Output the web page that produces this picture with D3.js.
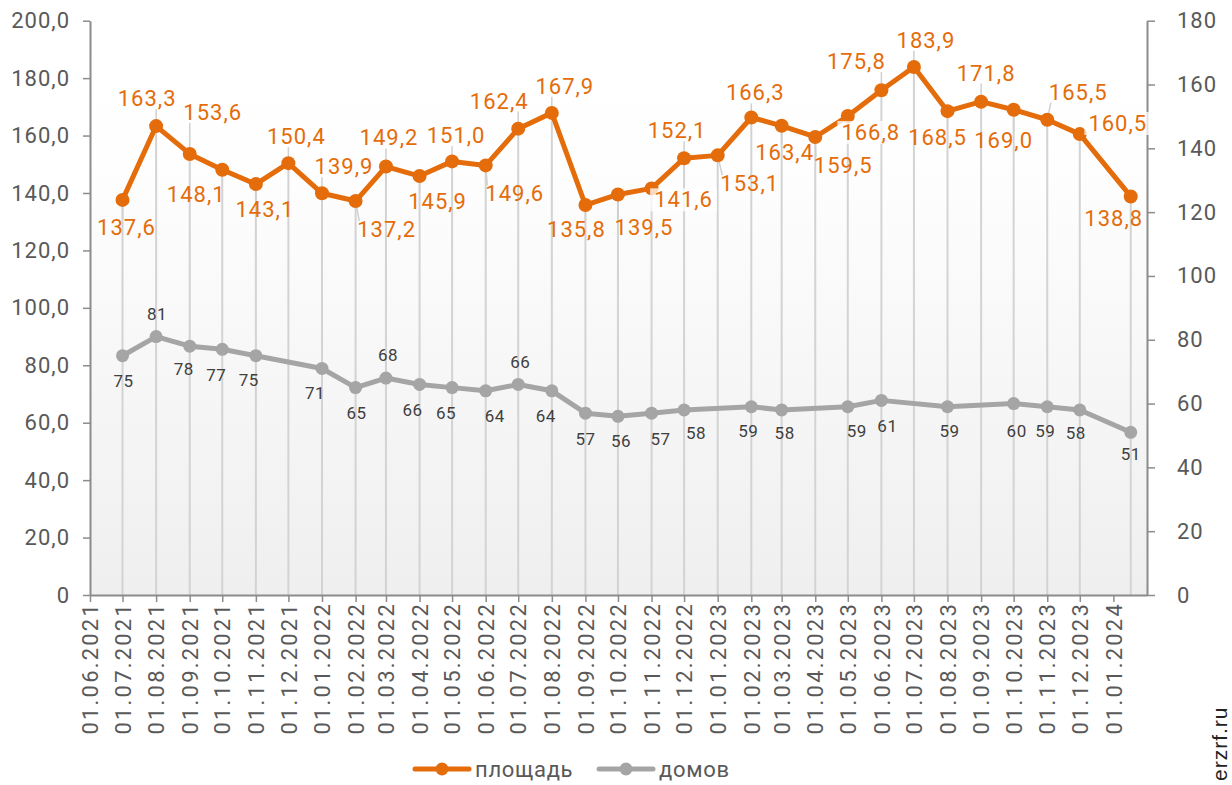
<!DOCTYPE html>
<html>
<head>
<meta charset="utf-8">
<script src="https://cdn.jsdelivr.net/npm/d3@7"></script>
<style>
  body { margin: 0; background: #fff; }
  text { font-family: Roboto, sans-serif; }
</style>
</head>
<body>
<script>
// площадь (left axis)
var areaDates = ["2021-07-01","2021-08-01","2021-09-01","2021-10-01","2021-11-01","2021-12-01",
    "2022-01-01","2022-02-01","2022-03-01","2022-04-01","2022-05-01","2022-06-01",
    "2022-07-01","2022-08-01","2022-09-01","2022-10-01","2022-11-01","2022-12-01",
    "2023-01-01","2023-02-01","2023-03-01","2023-04-01","2023-05-01","2023-06-01",
    "2023-07-01","2023-08-01","2023-09-01","2023-10-01","2023-11-01","2023-12-01",
    "2024-01-17"];
var areaValues = [137.6,163.3,153.6,148.1,143.1,150.4,
    139.9,137.2,149.2,145.9,151.0,149.6,
    162.4,167.9,135.8,139.5,141.6,152.1,
    153.1,166.3,163.4,159.5,166.8,175.8,
    183.9,168.5,171.8,169.0,165.5,160.5,
    138.8];
// label offsets from the point (px)
var areaDx = [4,-9,23,-26,9,8, 22,31,3,18,4,29, -19,13,-9,26,32,-7, 32,4,3,28,23,-25, 12,-10,5,-10,31,38, -17];
var areaDy = [27,-28,-42,24,25,-27, -27,28,-29,25,-26,28, -28,-27,24,33,11,-28, 28,-25,26,28,16,-29, -27,26,-29,30,-28,-11, 22];
var boxedLabels = [16, 22, 29];

// домов (right axis)
var homesDates = ["2021-07-01","2021-08-01","2021-09-01","2021-10-01","2021-11-01",
    "2022-01-01","2022-02-01","2022-03-01","2022-04-01","2022-05-01","2022-06-01",
    "2022-07-01","2022-08-01","2022-09-01","2022-10-01","2022-11-01","2022-12-01",
    "2023-02-01","2023-03-01","2023-05-01","2023-06-01",
    "2023-08-01","2023-10-01","2023-11-01","2023-12-01",
    "2024-01-17"];
var homesValues = [75,81,78,77,75, 71,65,68,66,65,64, 66,64,57,56,57,58, 59,58,59,61, 59,60,59,58, 51];
var homesDx = [1,1,-6,-6,-7, -7,1,2,-7,-6,9, 2,-6,0,3,9,12, -3,3,9,6, 2,3,-2,-4, 0];
var homesDy = [25,-23,23,26,24, 24,25,-23,25,25,25, -23,25,26,25,26,23, 24,23,24,26, 24,27,24,23, 22];

var leftTicks = [0,20,40,60,80,100,120,140,160,180,200];
var rightTicks = [0,20,40,60,80,100,120,140,160,180];
var seriesNames = ["площадь", "домов"];

var orange = "#E46C0A", grey = "#A5A5A5", axisColor = "#8c8c8c", textColor = "#595959";

var width = 1232, height = 785;
var plot = {left: 90, right: 1147, top: 20.7, bottom: 595};

var parse = d3.utcParse("%Y-%m-%d");
var fmt1 = function(v) { return d3.format(".1f")(v).replace(".", ","); };

var x = d3.scaleUtc()
    .domain([parse("2021-06-01"), parse("2024-02-01")])
    .range([plot.left, plot.right]);
var yL = d3.scaleLinear().domain([0, 200]).range([plot.bottom, plot.top]);
var yR = d3.scaleLinear().domain([0, 180]).range([plot.bottom, plot.top]);

var area = areaDates.map(function(d, i) { return {date: parse(d), value: areaValues[i], dx: areaDx[i], dy: areaDy[i], i: i}; });
var homes = homesDates.map(function(d, i) { return {date: parse(d), value: homesValues[i], dx: homesDx[i], dy: homesDy[i]}; });

var svg = d3.select("body").append("svg")
    .attr("width", width)
    .attr("height", height);

var defs = svg.append("defs");
var grad = defs.append("linearGradient").attr("id", "bg").attr("x1", 0).attr("y1", 0).attr("x2", 0).attr("y2", 1);
grad.append("stop").attr("offset", "0%").attr("stop-color", "#ffffff");
grad.append("stop").attr("offset", "25%").attr("stop-color", "#fefefe");
grad.append("stop").attr("offset", "100%").attr("stop-color", "#efefef");

svg.append("rect")
    .attr("x", plot.left).attr("y", plot.top)
    .attr("width", plot.right - plot.left).attr("height", plot.bottom - plot.top)
    .attr("fill", "url(#bg)");

// drop lines
svg.append("g").selectAll("line")
    .data(area)
    .enter().append("line")
    .attr("x1", function(d) { return x(d.date); })
    .attr("x2", function(d) { return x(d.date); })
    .attr("y1", function(d) { return yL(d.value); })
    .attr("y2", plot.bottom)
    .style("stroke", "#d3d3d3")
    .style("stroke-width", 2);

// axes
var leftAxis = svg.append("g")
    .attr("transform", "translate(" + plot.left + ",0)")
    .call(d3.axisLeft(yL).tickValues(leftTicks)
        .tickFormat(function(d) { return d === 0 ? "0" : fmt1(d); })
        .tickSize(7).tickSizeOuter(0).tickPadding(13));

var rightAxis = svg.append("g")
    .attr("transform", "translate(" + plot.right + ",0)")
    .call(d3.axisRight(yR).tickValues(rightTicks)
        .tickSize(8).tickSizeOuter(0).tickPadding(22));

var months = d3.utcMonth.range(parse("2021-06-01"), parse("2024-01-02"));
var bottomAxis = svg.append("g")
    .attr("transform", "translate(0," + plot.bottom + ")")
    .call(d3.axisBottom(x).tickValues(months)
        .tickFormat(d3.utcFormat("%d.%m.%Y"))
        .tickSize(7).tickSizeOuter(0));

[leftAxis, rightAxis, bottomAxis].forEach(function(a) {
    a.select(".domain").style("stroke", axisColor).style("stroke-width", 2);
    a.selectAll(".tick line").style("stroke", axisColor).style("stroke-width", 1.5);
    a.selectAll("text")
        .style("font-family", "Roboto, sans-serif")
        .style("font-size", "22px")
        .style("letter-spacing", "1px")
        .style("fill", textColor);
});

bottomAxis.selectAll("text")
    .attr("transform", "rotate(-90)")
    .attr("text-anchor", "end")
    .attr("x", -7)
    .attr("y", 0)
    .attr("dy", "0.35em")
    .style("letter-spacing", "2.2px");

var lineArea = d3.line().x(function(d) { return x(d.date); }).y(function(d) { return yL(d.value); });
var lineHomes = d3.line().x(function(d) { return x(d.date); }).y(function(d) { return yR(d.value); });

var leaders = svg.append("g");

svg.append("path").datum(homes)
    .attr("d", lineHomes)
    .style("fill", "none").style("stroke", grey).style("stroke-width", 5)
    .style("stroke-linejoin", "round");
svg.append("g").selectAll("circle").data(homes).enter().append("circle")
    .attr("cx", function(d) { return x(d.date); })
    .attr("cy", function(d) { return yR(d.value); })
    .attr("r", 6.5).style("fill", grey);

svg.append("path").datum(area)
    .attr("d", lineArea)
    .style("fill", "none").style("stroke", orange).style("stroke-width", 5)
    .style("stroke-linejoin", "round");
svg.append("g").selectAll("circle").data(area).enter().append("circle")
    .attr("cx", function(d) { return x(d.date); })
    .attr("cy", function(d) { return yL(d.value); })
    .attr("r", 7).style("fill", orange);

// labels: домов
svg.append("g").selectAll("text").data(homes).enter().append("text")
    .attr("x", function(d) { return x(d.date) + d.dx; })
    .attr("y", function(d) { return yR(d.value) + d.dy; })
    .attr("dy", "0.36em")
    .attr("text-anchor", "middle")
    .style("font-size", "17px")
    .style("letter-spacing", "0.5px")
    .style("fill", "#404040")
    .text(function(d) { return d.value; });

// labels: площадь
var boxG = svg.append("g");
var areaLabels = svg.append("g").selectAll("text").data(area).enter().append("text")
    .attr("x", function(d) { return x(d.date) + d.dx; })
    .attr("y", function(d) { return yL(d.value) + d.dy; })
    .attr("dy", "0.36em")
    .attr("text-anchor", "middle")
    .style("font-size", "22px")
    .style("letter-spacing", "1px")
    .style("fill", orange)
    .text(function(d) { return fmt1(d.value); });

areaLabels.each(function(d) {
    var b = this.getBBox();
    var px = x(d.date), py = yL(d.value);
    var bx = Math.max(b.x + 2, Math.min(px, b.x + b.width - 2));
    var by = Math.max(b.y + 4, Math.min(py, b.y + b.height - 2));
    if (boxedLabels.indexOf(d.i) >= 0) {
        boxG.append("rect")
            .attr("x", b.x - 4).attr("y", b.y + 1)
            .attr("width", b.width + 8).attr("height", b.height - 2)
            .style("fill", "#fff").style("opacity", 0.75);
        return;
    }
    var dist = Math.hypot(bx - px, by - py);
    if (dist > 14) {
        leaders.append("line")
            .attr("x1", px).attr("y1", py)
            .attr("x2", bx).attr("y2", by)
            .style("stroke", "#d0d0d0").style("stroke-width", 1.5);
    }
});

// legend
var legend = svg.append("g").attr("transform", "translate(0,769)");
var legendItems = [
    {name: seriesNames[0], color: orange, x0: 415},
    {name: seriesNames[1], color: grey, x0: 599}
];
legendItems.forEach(function(it) {
    legend.append("line").attr("x1", it.x0).attr("x2", it.x0 + 54)
        .attr("y1", 0).attr("y2", 0)
        .style("stroke", it.color).style("stroke-width", 5).style("stroke-linecap", "round");
    legend.append("circle").attr("cx", it.x0 + 27).attr("cy", 0).attr("r", 6.5).style("fill", it.color);
    legend.append("text").attr("x", it.x0 + 60).attr("y", 0).attr("dy", "0.36em")
        .style("font-size", "22px").style("letter-spacing", "0.7px").style("fill", textColor)
        .text(it.name);
});

svg.append("text")
    .attr("transform", "translate(1227,781) rotate(-90)")
    .style("font-family", "'Liberation Sans', Arial, sans-serif")
    .style("font-size", "21px")
    .style("letter-spacing", "1px")
    .style("fill", "#222")
    .text("erzrf.ru");
</script>
</body>
</html>
